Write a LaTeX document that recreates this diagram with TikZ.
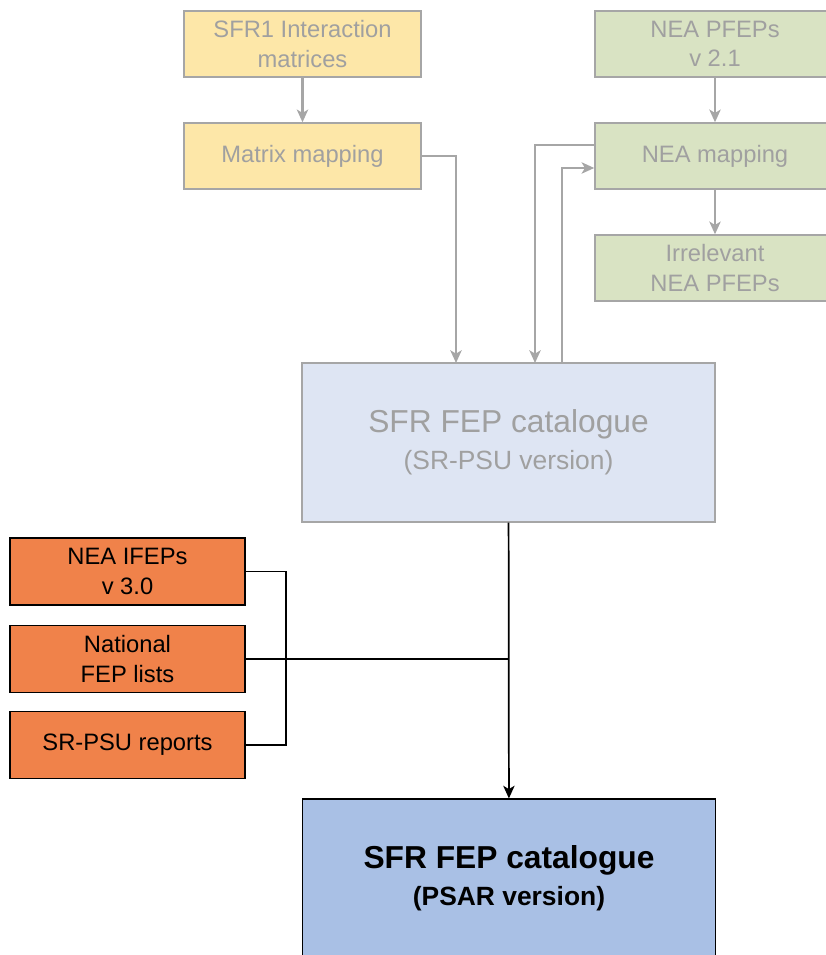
\documentclass[tikz,border=0pt]{standalone}
\usepackage{fontspec}
\setmainfont{Liberation Sans}
\usetikzlibrary{arrows.meta}

\definecolor{fadeyellow}{HTML}{FDE7A8}
\definecolor{fadegreen}{HTML}{D9E3C3}
\definecolor{fadeblue}{HTML}{DEE5F3}
\definecolor{fadeline}{HTML}{A6A6A6}
\definecolor{fadetext}{HTML}{A0A0A0}
\definecolor{srcorange}{HTML}{F0824A}
\definecolor{psarblue}{HTML}{A9C0E5}

\begin{document}
\begin{tikzpicture}[x=0.75pt,y=-0.75pt,
	fadebox/.style={draw=fadeline,line width=1.1pt,text=fadetext,align=center,inner sep=0pt,
		font=\fontsize{17.8}{22}\selectfont,minimum width=178pt,minimum height=49.5pt},
	srcbox/.style={draw=black,line width=1.1pt,fill=srcorange,align=center,inner sep=0pt,
		font=\fontsize{17.8}{22}\selectfont,minimum width=176pt,minimum height=50pt},
	catbox/.style={line width=1.1pt,align=center,inner sep=0pt,minimum width=310pt,minimum height=119pt,
		font=\fontsize{19.8}{27.5}\selectfont},
	fadearrow/.style={draw=fadeline,line width=1.6pt,-{Stealth[length=9.5pt,width=8.5pt,inset=2.5pt]}},
	srcline/.style={draw=black,line width=1.3pt}]
		\useasboundingbox (0,0) rectangle (825,955);

		% faded part
		\node[fadebox,fill=fadeyellow]				(sfr1)		at (302.5,44)	{SFR1 Interaction\\matrices};
		\node[fadebox,fill=fadeyellow]				(matmap)	at (302.5,156)	{Matrix mapping};
		\node[fadebox,fill=fadegreen,minimum width=180pt]	(pfep)		at (715,44)		{NEA PFEPs\\v 2.1};
		\node[fadebox,fill=fadegreen,minimum width=180pt]	(neamap)	at (715,156)	{NEA mapping};
		\node[fadebox,fill=fadegreen,minimum width=180pt]	(irrel)		at (715,268)	{Irrelevant\\NEA PFEPs};
		\node[catbox,draw=fadeline,fill=fadeblue,text=fadetext]	(catpsu)	at (508.5,442.5)
			{{\fontsize{23.8}{27.5}\selectfont SFR FEP catalogue}\\(SR-PSU version)};

		\coordinate (in1)	at (456,363);
		\coordinate (in2)	at (535,363);
		\coordinate (out1)	at (562,363);

		\draw[fadearrow] (sfr1) -- (matmap);
		\draw[fadearrow] (pfep) -- (neamap);
		\draw[fadearrow] (neamap) -- (irrel);
		\draw[fadearrow] (matmap.east) -| (in1);
		\draw[fadearrow] ([yshift=8.25pt]neamap.west) -| (in2);
		\draw[fadearrow] (out1) |- ([yshift=-9pt]neamap.west);

		% sources
		\node[srcbox]	(ifep)		at (127.5,571.5)	{NEA IFEPs\\v 3.0};
		\node[srcbox]	(natl)		at (127.5,659)		{National\\FEP lists};
		\node[srcbox]	(reports)	at (127.5,745)		{SR-PSU reports};
		\node[catbox,draw=black,fill=psarblue,font=\fontsize{19.8}{27.5}\selectfont\bfseries]	(catpsar)	at (509,878.5)
			{{\fontsize{23.8}{27.5}\selectfont SFR FEP catalogue}\\(PSAR version)};

		\coordinate (brk)	at (286,659);

		\draw[srcline,-{Stealth[length=9.5pt,width=8.5pt,inset=2.5pt]}] (catpsu) -- (catpsar);
		\draw[srcline] (ifep.east) -| (brk) |- (reports.east);
		\draw[srcline] (natl.east) -- (natl.east -| catpsar.north);
	\end{tikzpicture}
\end{document}
